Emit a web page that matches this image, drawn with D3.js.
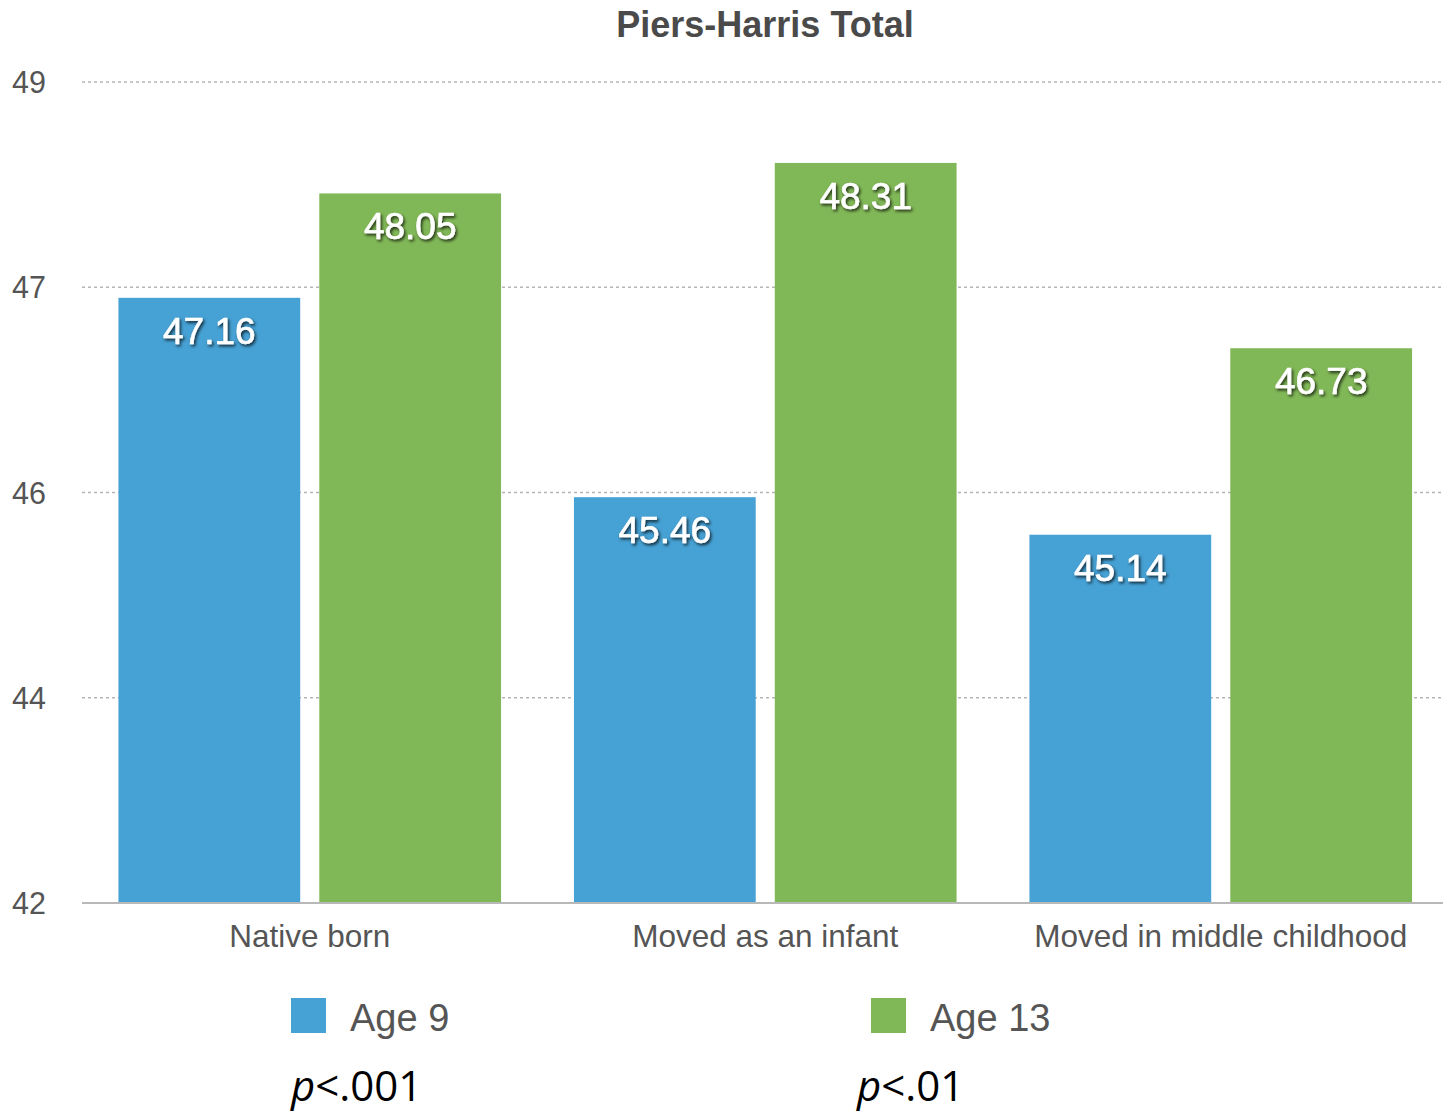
<!DOCTYPE html>
<html>
<head>
<meta charset="utf-8">
<script src="https://cdn.jsdelivr.net/npm/d3@7"></script>
<style>
  html, body { margin: 0; padding: 0; background: #fff; }
  svg { display: block; }
</style>
</head>
<body>
<script>
// Piers-Harris Total scores by immigration group and age
const categories = ["Native born", "Moved as an infant", "Moved in middle childhood"];
const seriesNames = ["Age 9", "Age 13"];
const age9 = [47.16, 45.46, 45.14];
const age13 = [48.05, 48.31, 46.73];
const tickValues = [42, 43.75, 45.5, 47.25, 49];
const tickLabels = ["42", "44", "46", "47", "49"];
const pValues = ["<.001", "<.01"];
const colors = ["#46a1d4", "#81b857"];

const W = 1443, H = 1115;
const svg = d3.select("body").append("svg").attr("width", W).attr("height", H);

const defs = svg.append("defs");
const f = defs.append("filter").attr("id", "lblShadow")
  .attr("x", "-20%").attr("y", "-30%").attr("width", "140%").attr("height", "160%");
f.append("feDropShadow").attr("dx", 1.5).attr("dy", 2).attr("stdDeviation", 1.4)
  .attr("flood-color", "#000").attr("flood-opacity", 0.75);

const plotLeft = 82, plotRight = 1443, plotTop = 82, plotBottom = 903;

const y = d3.scaleLinear().domain([42, 49]).range([plotBottom, plotTop]);
const x0 = d3.scaleBand().domain(categories).range([plotLeft, 1448.5])
  .paddingInner(0.16).paddingOuter(0.08);
const x1 = d3.scaleBand().domain(seriesNames).range([0, x0.bandwidth()])
  .paddingInner(0.095).paddingOuter(0);

const font = "'Liberation Sans', Arial, Helvetica, sans-serif";

// title
svg.append("text").attr("x", 765).attr("y", 37).attr("text-anchor", "middle")
  .attr("font-family", font).attr("font-size", 36).attr("font-weight", "bold")
  .attr("fill", "#4a4a4a").text("Piers-Harris Total");

// gridlines
const grid = svg.append("g");
tickValues.slice(1).forEach(v => {
  grid.append("line").attr("x1", plotLeft).attr("x2", plotRight)
    .attr("y1", y(v)).attr("y2", y(v))
    .attr("stroke", "#b5b5b5").attr("stroke-width", 1.5).attr("stroke-dasharray", "3,3");
});

// y tick labels
const yAxis = d3.axisLeft(y).tickValues(tickValues)
  .tickFormat((d, i) => tickLabels[i]).tickSize(0).tickPadding(0);
const ya = svg.append("g").attr("transform", `translate(46,0)`).call(yAxis);
ya.select(".domain").remove();
ya.selectAll("text").attr("font-family", font).attr("font-size", 30.5)
  .attr("fill", "#555").attr("dy", "0.35em");

// bars
const rows = categories.map((c, i) => ({ cat: c, vals: [age9[i], age13[i]] }));
const groups = svg.append("g").selectAll("g").data(rows).join("g")
  .attr("transform", d => `translate(${x0(d.cat)},0)`);

groups.selectAll("rect").data(d => d.vals.map((v, j) => ({ v, s: seriesNames[j], j })))
  .join("rect")
  .attr("x", d => x1(d.s)).attr("width", x1.bandwidth())
  .attr("y", d => y(d.v)).attr("height", d => y(42) - y(d.v))
  .attr("fill", d => colors[d.j]);

groups.selectAll("text.val").data(d => d.vals.map((v, j) => ({ v, s: seriesNames[j] })))
  .join("text").attr("class", "val")
  .attr("x", d => x1(d.s) + x1.bandwidth() / 2)
  .attr("y", d => y(d.v) + 46)
  .attr("text-anchor", "middle")
  .attr("font-family", font).attr("font-size", 37)
  .attr("fill", "#fff").attr("stroke", "#fff").attr("stroke-width", 0.6)
  .attr("filter", "url(#lblShadow)")
  .text(d => d.v.toFixed(2));

// x axis baseline and category labels
svg.append("line").attr("x1", plotLeft).attr("x2", plotRight)
  .attr("y1", plotBottom).attr("y2", plotBottom)
  .attr("stroke", "#b8b8b8").attr("stroke-width", 2);

const xAxis = d3.axisBottom(x0).tickSize(0).tickPadding(0);
const xa = svg.append("g").attr("transform", `translate(0,${plotBottom})`).call(xAxis);
xa.select(".domain").remove();
xa.selectAll("text").attr("font-family", font).attr("font-size", 31.5)
  .attr("fill", "#555").attr("dy", 0).attr("y", 44);

// legend
const legendX = [291, 871];
const legend = svg.append("g");
seriesNames.forEach((name, i) => {
  legend.append("rect").attr("x", legendX[i]).attr("y", 998)
    .attr("width", 35).attr("height", 35).attr("fill", colors[i]);
  legend.append("text").attr("x", legendX[i] + 59).attr("y", 1031)
    .attr("font-family", font).attr("font-size", 38).attr("fill", "#555").text(name);
});

// significance notes
pValues.forEach((p, i) => {
  const t = svg.append("text").attr("x", legendX[i] - (i === 0 ? 0 : 14)).attr("y", 1101)
    .attr("font-family", "'Open Sans', 'Noto Sans', sans-serif").attr("font-size", 42).attr("fill", "#000");
  t.append("tspan").attr("font-style", "italic").text("p");
  t.append("tspan").text(p);
});
</script>
</body>
</html>
